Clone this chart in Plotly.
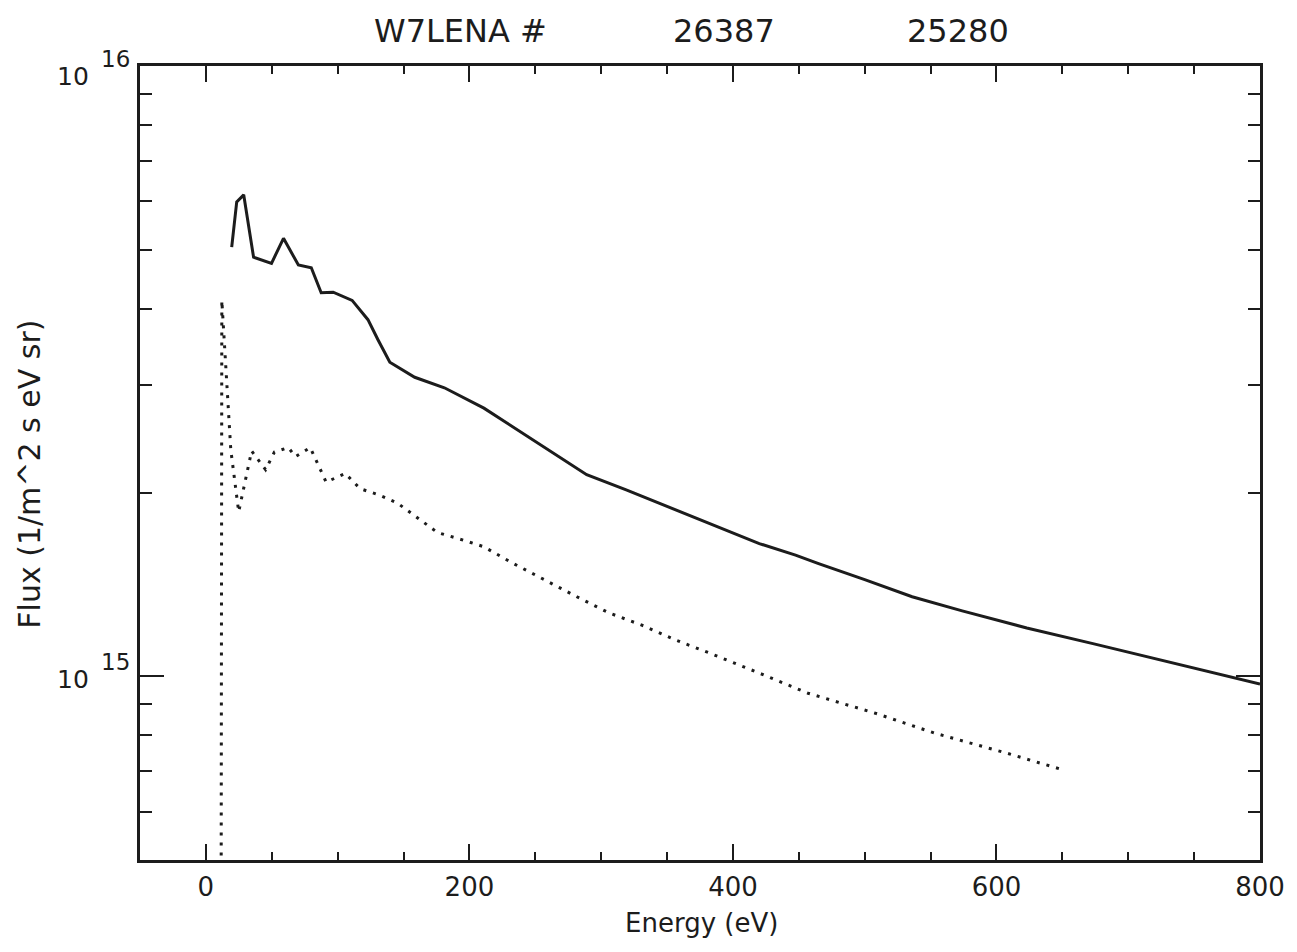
import math
import plotly.graph_objects as go

# ---- data ----
energy_solid = [19.6, 23.4, 28.7, 36.2, 49.8, 58.9, 70.2, 80.0, 87.5, 96.6, 111, 123,
                130.6, 139.6, 158.5, 181, 211, 246, 289, 319, 352, 382, 420, 447.5,
                465, 500, 536, 574, 623, 674, 734, 800]
flux_solid = [5.05e15, 5.99e15, 6.15e15, 4.86e15, 4.75e15, 5.22e15, 4.72e15, 4.67e15,
              4.25e15, 4.26e15, 4.13e15, 3.84e15, 3.56e15, 3.27e15, 3.09e15, 2.97e15,
              2.75e15, 2.46e15, 2.14e15, 2.02e15, 1.89e15, 1.78e15, 1.65e15, 1.58e15,
              1.53e15, 1.44e15, 1.35e15, 1.28e15, 1.20e15, 1.13e15, 1.05e15, 9.71e14]

energy_dot = [11.5, 12.1, 18.9, 24.9, 34.7, 45.3, 52, 62.6, 67.9, 79.2, 91.3, 105.7,
              117, 132, 145.7, 160.8, 175.8, 196, 211, 231, 256.6, 281.5, 306, 332,
              355, 383, 421, 457, 508, 553, 608, 651]
flux_dot = [3e14, 4.13e15, 2.35e15, 1.86e15, 2.34e15, 2.18e15, 2.33e15, 2.37e15,
            2.29e15, 2.37e15, 2.08e15, 2.15e15, 2.03e15, 1.98e15, 1.92e15, 1.82e15,
            1.72e15, 1.67e15, 1.63e15, 1.54e15, 1.44e15, 1.35e15, 1.27e15, 1.21e15,
            1.15e15, 1.09e15, 1.01e15, 9.38e14, 8.7e14, 8.07e14, 7.48e14, 7.02e14]

x_major = [0, 200, 400, 600, 800]
x_minor = [50, 100, 150, 250, 300, 350, 450, 500, 550, 650, 700, 750]
y_major = [1e15, 1e16]
y_major_base = ["10", "10"]
y_major_exp = ["15", "16"]
y_minor = [6e14, 7e14, 8e14, 9e14, 2e15, 3e15, 4e15, 5e15, 6e15, 7e15, 8e15, 9e15]

title_parts = ["W7LENA #", "26387", "25280"]
x_title = "Energy (eV)"
y_title = "Flux (1/m^2 s eV sr)"

INK = "#1c1c1c"
FONT = "DejaVu Sans"

fig = go.Figure()
fig.add_trace(go.Scatter(x=energy_solid, y=flux_solid, mode="lines",
                         line=dict(color=INK, width=3), showlegend=False,
                         hoverinfo="skip"))
fig.add_trace(go.Scatter(x=energy_dot, y=flux_dot, mode="lines",
                         line=dict(color=INK, width=3, dash="3px,7px"),
                         showlegend=False, hoverinfo="skip"))

L, R, T, B = 140, 30, 66, 92
W, H = 1297, 952
pw, ph = W - L - R, H - T - B

fig.update_layout(
    width=W, height=H,
    margin=dict(l=L, r=R, t=T, b=B),
    paper_bgcolor="white", plot_bgcolor="white",
    font=dict(family=FONT, color=INK),
    xaxis=dict(range=[-50, 800], tickmode="array", tickvals=x_major,
               ticktext=[str(v) for v in x_major],
               ticks="inside", ticklen=16, tickwidth=2, tickcolor=INK,
               showline=True, linewidth=2.5, linecolor=INK, mirror="ticks",
               showgrid=False, zeroline=False,
               tickfont=dict(size=26, family=FONT, color=INK),
               ticklabelstandoff=2,
               minor=dict(tickmode="array", tickvals=x_minor, ticks="inside",
                          ticklen=8, tickwidth=2, tickcolor=INK)),
    yaxis=dict(type="log", range=[math.log10(5e14), 16], tickmode="array",
               tickvals=y_major, showticklabels=False,
               ticks="inside", ticklen=24, tickwidth=2, tickcolor=INK,
               showline=True, linewidth=2.5, linecolor=INK, mirror="ticks",
               showgrid=False, zeroline=False,
               minor=dict(tickmode="array", tickvals=y_minor, ticks="inside",
                          ticklen=12, tickwidth=2, tickcolor=INK)),
)

# y tick labels as base + exponent
label_shift = [-3, -10]
for v, base, ex, sh in zip(y_major, y_major_base, y_major_exp, label_shift):
    fig.add_annotation(text=base, xref="paper", yref="y",
                       x=(91 - L) / pw, y=math.log10(v), yshift=sh,
                       showarrow=False, xanchor="right", yanchor="middle",
                       font=dict(size=25, family=FONT, color=INK))
    fig.add_annotation(text=ex, xref="paper", yref="y",
                       x=(99 - L) / pw, y=math.log10(v), yshift=sh + 17,
                       showarrow=False, xanchor="left", yanchor="middle",
                       font=dict(size=23, family=FONT, color=INK))

# title pieces
title_x = [463, 728, 963]
for txt, px in zip(title_parts, title_x):
    fig.add_annotation(text=txt, xref="paper", yref="paper",
                       x=(px - L) / pw, y=1 + (T - 31) / ph,
                       showarrow=False, xanchor="center", yanchor="middle",
                       font=dict(size=32, family=FONT, color=INK))

# axis titles
fig.add_annotation(text=x_title, xref="paper", yref="paper",
                   x=(705 - L) / pw, y=-(923 - (T + ph)) / ph,
                   showarrow=False, xanchor="center", yanchor="middle",
                   font=dict(size=26, family=FONT, color=INK))
fig.add_annotation(text=y_title, xref="paper", yref="paper",
                   x=(28 - L) / pw, y=1 - (474 - T) / ph, textangle=-90,
                   showarrow=False, xanchor="center", yanchor="middle",
                   font=dict(size=30, family=FONT, color=INK))

fig.write_html("out.html")
